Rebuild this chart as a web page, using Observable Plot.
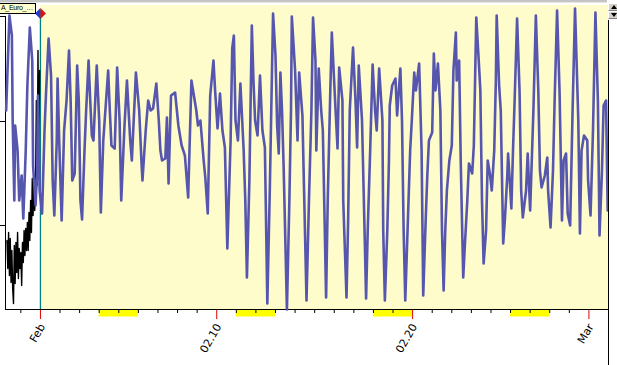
<!DOCTYPE html>
<html><head><meta charset="utf-8">
<script src="https://cdn.jsdelivr.net/npm/d3@7"></script>
<script src="https://cdn.jsdelivr.net/npm/@observablehq/plot@0.6"></script>
<style>
html,body{margin:0;padding:0;background:#fff;}
#wrap{position:relative;width:617px;height:365px;overflow:hidden;background:#fff;}
#chart svg{display:block;}
.topline{position:absolute;left:0;top:0;width:607px;height:2px;background:#c4c4c4;border-bottom:1px solid #e8e8e8;}
.tag{position:absolute;left:-1px;top:3px;width:37px;height:11px;border:1px solid #000;background:#ffffcc;font:7px "Liberation Sans",sans-serif;letter-spacing:-0.3px;line-height:7px;white-space:nowrap;box-sizing:border-box;padding-left:1px;color:#000;}
.btn{position:absolute;left:608px;width:9px;height:8px;background:#d4d0c8;box-sizing:border-box;border-top:1px solid #fff;border-left:1px solid #fff;border-bottom:1px solid #808080;}
.up{top:3px;}.dn{top:11px;}
.tri{position:absolute;left:2px;width:0;height:0;border-left:3px solid transparent;border-right:3px solid transparent;}
.up .tri{top:1px;border-bottom:4px solid #000;}
.dn .tri{top:1px;border-top:4px solid #000;}
</style></head><body>
<div id="wrap">
  <div id="chart"></div>
  <div class="topline"></div>
  <div class="tag">A_Euro_…</div>
  <div class="btn up"><div class="tri"></div></div>
  <div class="btn dn"><div class="tri"></div></div>
</div>
<script>
// Blue series: vertices (hours from 2017-02-01 00:00 UTC, value units 0..303)
const blueHours = [-42,-38,-35,-34,-32,-31,-28,-26,-23,-21,-18,-16,-13,-10,-9,-6,-4,-3,-1,2,5,7,10,13,15,17,20,21,23,26,29,32,35,37,39,42,45,47,49,51,54,56,59,61,63,65,69,72,74,77,80,83,85,87,91,94,97,99,103,106,110,112,117,121,124,125,129,132,135,138,142,
145,147,149,153,155,157,160,165,169,173,177,181,185,188,191,193,196,200,202,205,208,212,214,217,220,223,226,229,233,235,237,239,242,245,249,251,253,256,259,261,263,266,269,272,275,278,281,285,288,290,292,294,296,298,302,305,307,308,312,315,317,321,323,326,
329,332,334,337,338,341,344,346,350,352,355,357,361,364,366,370,371,375,377,379,383,386,388,390,394,396,399,401,404,407,410,412,415,419,420,422,425,427,428,431,435,437,441,443,445,447,449,451,453,455,458,460,464,467,469,472,474,476,480,482,484,487,490,492,494,496,498,501,504,506,509,
510,513,515,518,520,523,525,529,531,534,537,539,541,543,546,548,551,553,556,558,559,562,564,567,569,572,573,577,579,581,584,587,589,591,595,597,600,602,604,607,610,612,614,618,621,622,625,628,630,633,636,639,641,644,646,649,652,655,659,661,663,666,670,671,674,677,680,683,685,688,690,693,695];
const blueValues = [199,294,274,189,109,184,159,109,134,91,159,224,282,249,144,104,139,214,119,96,179,219,271,234,129,94,169,231,169,89,179,209,259,209,129,136,244,209,109,90,159,199,249,209,174,169,244,189,97,169,204,239,199,164,161,242,189,109,184,229,169,149,237,199,144,129,179,209,199,201,226,
189,159,149,151,192,126,214,217,184,164,154,112,229,214,199,184,189,149,132,96,214,249,219,181,216,179,162,61,169,261,274,189,169,226,159,109,32,129,284,229,189,174,234,179,162,6,119,296,254,184,156,237,199,142,0,109,199,293,239,169,237,194,119,9,
109,199,292,249,159,241,199,179,12,109,214,277,209,161,242,209,109,12,89,199,262,209,162,244,189,119,11,79,159,245,199,179,241,189,79,9,79,149,204,224,231,194,241,189,79,9,59,109,159,189,237,219,246,159,14,89,134,169,177,256,219,246,199,79,19,79,119,149,164,239,277,
229,249,146,32,64,109,146,136,164,292,249,219,109,46,79,149,134,119,159,229,294,224,199,66,89,134,156,101,159,209,291,219,119,92,119,156,99,149,199,294,219,139,122,134,152,119,82,139,209,299,219,89,149,156,96,84,199,301,189,76,159,174,169,129,94,179,297,209,74,139,204,209,99];
// Black series (left, before February)
const blackHours = [-41,-40,-39,-38,-37,-36,-35,-34,-33,-32,-31,-30,-29,-28,-27,-26,-25,-24,-23,-22,-21,-20,-19,-18,-17,-16,-15,-14,-13,-12,-11,-10,-9,-8,-7,-6,-5,-4,-3,-2,-1];
const blackValues = [69,41,77,34,71,27,59,21,6,64,26,67,37,77,31,61,41,57,24,67,47,79,54,81,59,87,59,97,69,109,77,131,94,129,99,119,209,124,259,144,239];
const weekendStarts = ["2017-02-04","2017-02-11","2017-02-18","2017-02-25"];
const labelDates = ["2017-02-01","2017-02-10","2017-02-20","2017-03-01"];
const labelTexts = ["Feb","02.10","02.20","Mar"];

const H = 3600e3;
const base = Date.UTC(2017, 1, 1);
const t = h => new Date(base + h * H);
const blue = blueHours.map((h, i) => ({date: t(h), value: blueValues[i]}));
const black = blackHours.map((h, i) => ({date: t(h), value: blackValues[i]}));
const xStart = t(-42.8), xEnd = t(696), feb1 = t(0);
const labels = labelDates.map((d, i) => ({date: new Date(d + "T00:00Z"), text: labelTexts[i]}));
const labelSet = new Set(labels.map(d => +d.date));
const minorDays = d3.utcDay.range(t(-24), t(697)).filter(d => !labelSet.has(+d));
const weekends = weekendStarts.map(d => { const s = new Date(d + "T00:00Z"); return {x1: s, x2: new Date(+s + 48 * H)}; });

const halfDiamond = side => ({draw(ctx, size) {
  const r = Math.sqrt(size / Math.PI);
  ctx.moveTo(0, -r); ctx.lineTo(side * r, 0); ctx.lineTo(0, r); ctx.closePath();
}});

const chart = Plot.plot({
  width: 617, height: 365,
  marginLeft: 5, marginRight: 9, marginTop: 6, marginBottom: 56,
  x: {type: "utc", domain: [xStart, xEnd], axis: null},
  y: {domain: [0, 303], axis: null},
  style: {fontFamily: "DejaVu Sans", fontSize: "11px", background: "#fff", overflow: "visible"},
  marks: [
    Plot.rect([{x1: feb1, x2: xEnd}], {x1: "x1", x2: "x2", y1: () => 0, y2: () => 304, fill: "#fffccc"}),
    Plot.rect(weekends, {x1: "x1", x2: "x2", y1: () => 0, y2: () => -7.5, fill: "#ffff00"}),
    Plot.ruleX(minorDays, {y1: () => 0, y2: () => -4, stroke: "#000"}),
    Plot.ruleX(labels, {x: "date", y1: () => 0, y2: () => -10, stroke: "#e00000"}),
    Plot.ruleY([0], {x1: () => xStart, x2: () => xEnd, stroke: "#000"}),
    Plot.ruleX([xStart], {x: d => d, y1: () => 0, y2: () => 293, stroke: "#000"}),
    Plot.ruleY([293, 188, 84], {x1: () => t(-42.8 - 6.2), x2: () => xStart, stroke: "#000"}),
    Plot.ruleX([feb1], {x: d => d, y1: () => 0, y2: () => 299, stroke: "#008080", strokeWidth: 1.3}),
    Plot.line(black, {x: "date", y: "value", stroke: "#000", strokeWidth: 1.4}),
    Plot.line(blue, {x: "date", y: "value", stroke: "#5656ae", strokeWidth: 2.6}),
    Plot.ruleX([xEnd], {x: d => d, y1: () => -56, y2: () => 289, stroke: "#000"}),
    Plot.dot([feb1], {x: d => d, y: () => 296, symbol: halfDiamond(-1), r: 5.5, fill: "#1f3fd0", stroke: "none"}),
    Plot.dot([feb1], {x: d => d, y: () => 296, symbol: halfDiamond(1), r: 5.5, fill: "#e01010", stroke: "none"}),
    Plot.text(labels, {x: "date", y: () => -17, text: "text", rotate: -60, textAnchor: "end", lineAnchor: "bottom", dx: 5, fontSize: 11, fill: "#000"})
  ]
});
document.getElementById("chart").appendChild(chart);
</script>
</body></html>
